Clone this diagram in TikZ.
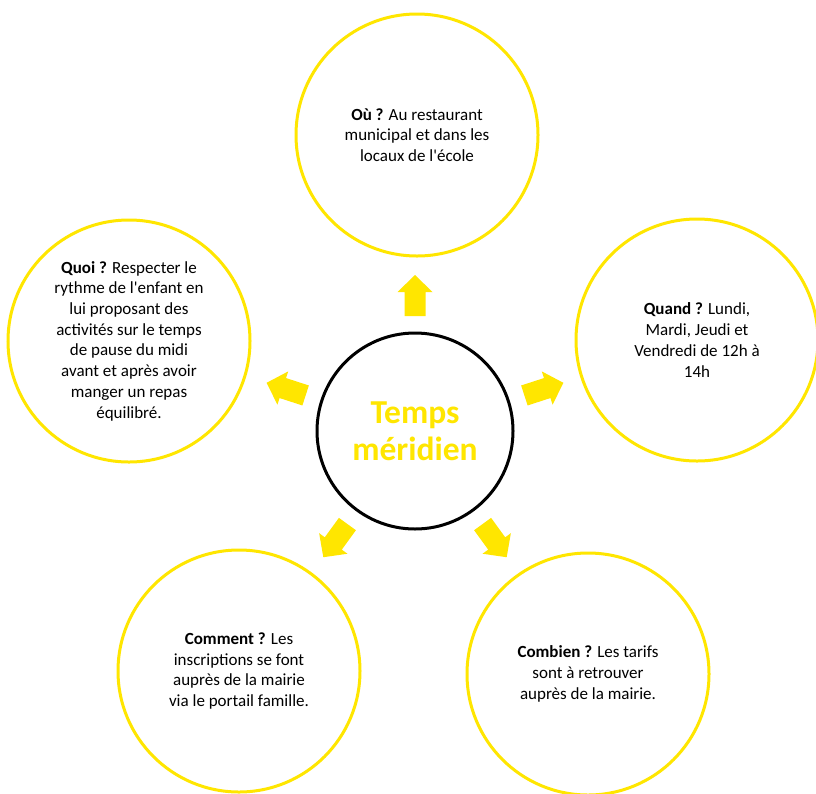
\documentclass[tikz,border=0pt]{standalone}
\usepackage{fontspec}
\setmainfont{Carlito}
\definecolor{myyellow}{RGB}{255,230,0}
\begin{document}
\begin{tikzpicture}[x=1pt,y=-1pt,
  outer/.style={circle, draw=myyellow, line width=3pt, minimum size=242pt, inner sep=0pt,
    align=center, text=black, font=\fontsize{17}{20.7}\selectfont},
  hub/.style={circle, draw=black, line width=3pt, minimum size=196pt, inner sep=0pt,
    align=center, text=myyellow, font=\bfseries\fontsize{33.5}{37}\selectfont},
  blockarrow/.style={fill=myyellow}]
\useasboundingbox (0,0) rectangle (816,793);
\fill[white] (0,0) rectangle (816,793);

\node[hub] (c) at (415,431) {Temps\\méridien};

\node[outer] (ou) at (417,135) {\textbf{Où ?} Au restaurant\\municipal et dans les\\locaux de l\textquotesingle école};
\node[outer] (quand) at (697,340) {\textbf{Quand ?} Lundi,\\Mardi, Jeudi et\\Vendredi de 12h à\\14h};
\node[outer] (quoi) at (129,341) {\textbf{Quoi ?} Respecter le\\rythme de l\textquotesingle enfant en\\lui proposant des\\activités sur le temps\\de pause du midi\\avant et après avoir\\manger un repas\\équilibré.};
\node[outer] (comment) at (239,671) {\textbf{Comment ?} Les\\inscriptions se font\\auprès de la mairie\\via le portail famille.};
\node[outer] (combien) at (588,674) {\textbf{Combien ?} Les tarifs\\sont à retrouver\\auprès de la mairie.};

\foreach \a in {90,162,18,234,306} {
  \begin{scope}[shift={(c.center)}, rotate=\a, x=1pt, y=1pt]
    \fill[blockarrow] (115,-10.5) -- (139,-10.5) -- (139,-17.5) -- (156,0)
      -- (139,17.5) -- (139,10.5) -- (115,10.5) -- cycle;
  \end{scope}
}
\end{tikzpicture}
\end{document}
